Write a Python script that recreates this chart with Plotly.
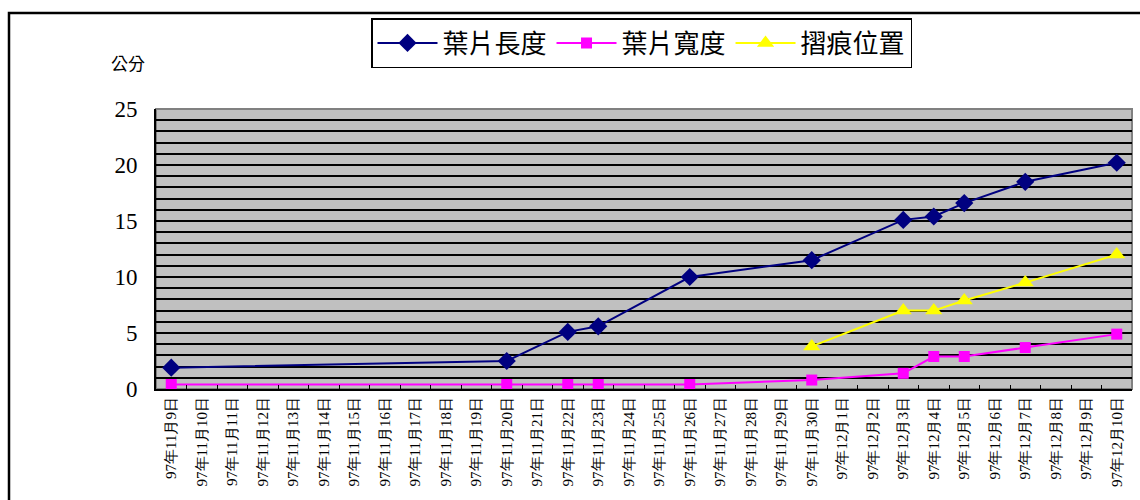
import plotly.graph_objects as go

# Full date axis (one category per day)
nov_days = list(range(9, 31))
dec_days = list(range(1, 11))
date_labels = [f"97年11月{d}日" for d in nov_days] + [f"97年12月{d}日" for d in dec_days]

# Measurement dates
measure_dates = ["97年11月9日", "97年11月20日", "97年11月22日", "97年11月23日", "97年11月26日",
                 "97年11月30日", "97年12月3日", "97年12月4日", "97年12月5日", "97年12月7日",
                 "97年12月10日"]
leaf_length = [1.9, 2.5, 5.1, 5.6, 10.0, 11.5, 15.1, 15.4, 16.6, 18.5, 20.2]
leaf_width = [0.4, 0.4, 0.4, 0.4, 0.4, 0.8, 1.4, 2.9, 2.9, 3.7, 4.9]

fold_dates = ["97年11月30日", "97年12月3日", "97年12月4日", "97年12月5日", "97年12月7日",
              "97年12月10日"]
fold_position = [3.8, 7.0, 7.0, 7.9, 9.5, 12.0]

y_ticks = [0, 5, 10, 15, 20, 25]

CJK = "Noto Sans CJK TC"
SERIF = "Liberation Serif"

fig = go.Figure()
fig.add_trace(go.Scatter(
    x=measure_dates, y=leaf_length, name="葉片長度", mode="lines+markers",
    line=dict(color="#000080", width=2),
    marker=dict(symbol="diamond", size=14, color="#000080"),
))
fig.add_trace(go.Scatter(
    x=measure_dates, y=leaf_width, name="葉片寬度", mode="lines+markers",
    line=dict(color="#FF00FF", width=2),
    marker=dict(symbol="square", size=11, color="#FF00FF"),
))
fig.add_trace(go.Scatter(
    x=fold_dates, y=fold_position, name="摺痕位置", mode="lines+markers",
    line=dict(color="#FFFF00", width=2),
    marker=dict(symbol="triangle-up", size=15, color="#FFFF00"),
))

fig.update_layout(
    width=1140, height=500,
    margin=dict(l=156, r=8, t=109, b=111),
    paper_bgcolor="white",
    plot_bgcolor="#C0C0C0",
    showlegend=True,
    legend=dict(
        orientation="h",
        x=(371 - 156) / 976, y=(389 - 18) / 280,
        xanchor="left", yanchor="top",
        font=dict(family=CJK, size=26, color="black"),
        bgcolor="white", bordercolor="black", borderwidth=1.5,
        itemwidth=60, tracegroupgap=0,
    ),
    xaxis=dict(
        type="category",
        categoryorder="array", categoryarray=date_labels,
        tickvals=date_labels, ticktext=date_labels,
        range=[-0.5, len(date_labels) - 0.5],
        tickangle=-90,
        tickfont=dict(family=SERIF, size=15, color="black"),
        showgrid=False, zeroline=False,
        showline=True, linecolor="black", linewidth=2,
        ticks="inside", tickson="boundaries", ticklen=4, tickcolor="black",
    ),
    yaxis=dict(
        range=[0, 25], tickvals=y_ticks,
        tickfont=dict(family="Liberation Serif", size=23, color="black"),
        showgrid=True, gridcolor="black", gridwidth=2,
        minor=dict(dtick=1, showgrid=True, gridcolor="black", gridwidth=2),
        zeroline=False,
        showline=True, linecolor="black", linewidth=2,
        ticks="inside", ticklen=6, tickcolor="black",
        ticklabelstandoff=12,
    ),
    annotations=[dict(
        text="公分", xref="paper", yref="paper",
        x=(128 - 156) / 976, y=(389 - 63) / 280,
        xanchor="center", yanchor="middle", showarrow=False,
        font=dict(family=CJK, size=17, color="black"),
    )],
    shapes=[
        # chart frame
        dict(type="rect", xref="paper", yref="paper",
             x0=(9 - 156) / 976, x1=(1150 - 156) / 976,
             y0=(389 - 520) / 280, y1=(389 - 13) / 280,
             line=dict(color="black", width=2.5), layer="below"),
        # plot area border (top/right)
        dict(type="rect", xref="paper", yref="paper", x0=0, x1=1, y0=0, y1=1,
             line=dict(color="#808080", width=2), layer="below"),
    ],
)

fig.write_html("out.html")
